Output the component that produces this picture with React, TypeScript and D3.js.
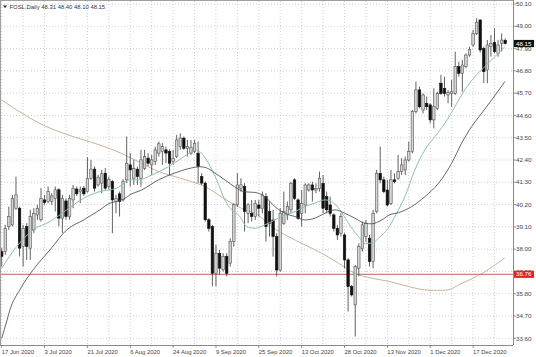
import React from "react";
import * as d3 from "d3";

const opens = [37.88,37.88,39.12,39.20,40.02,40.02,38.13,39.12,38.05,38.95,39.69,39.45,40.43,40.35,40.35,40.51,40.93,39.53,40.38,39.61,40.43,40.97,40.84,41.01,40.84,41.50,41.95,41.17,41.26,41.75,41.09,41.34,40.35,40.73,40.43,41.42,42.16,41.50,41.95,41.50,41.99,42.49,42.16,42.32,42.74,42.82,42.90,42.82,42.32,42.57,43.06,43.48,42.98,42.74,42.82,42.74,41.58,41.26,39.45,39.12,36.81,37.80,36.98,37.64,37.31,38.38,40.19,41.01,41.09,39.77,39.77,39.61,40.18,40.02,40.59,39.85,39.44,38.62,36.97,39.28,39.69,39.94,41.42,40.43,39.77,40.18,40.92,41.17,40.92,41.00,41.25,40.59,40.18,39.69,39.03,38.79,38.70,37.47,36.15,35.25,37.06,38.04,38.62,38.54,37.39,39.85,41.74,41.42,40.92,40.26,41.42,41.50,41.83,41.91,42.40,42.81,44.79,45.86,44.87,45.20,45.12,44.38,44.95,46.19,45.94,45.61,45.69,45.69,47.01,46.68,47.01,47.58,48.08,48.65,49.31,47.91,46.84,48.00,48.19,47.66,48.16,48.31];
const highs = [38.05,39.20,40.10,40.68,41.58,40.10,39.20,39.28,39.94,40.02,40.19,41.01,40.68,41.09,40.76,41.09,41.01,40.68,40.51,40.68,41.17,41.09,41.09,41.12,42.54,42.41,42.08,41.67,41.91,42.00,41.58,41.42,40.68,40.84,41.45,43.56,42.74,42.41,42.08,42.90,42.90,42.74,42.65,43.06,43.31,43.23,43.06,42.93,42.90,43.64,43.72,43.56,43.39,43.39,43.39,43.31,41.75,41.34,39.53,39.20,38.21,37.97,37.80,37.80,38.54,40.27,41.75,41.50,41.26,40.27,40.43,40.43,40.43,40.84,40.76,40.35,39.94,38.79,40.02,40.84,40.35,41.33,41.50,40.51,40.92,41.25,41.25,41.33,41.25,41.83,41.66,40.84,40.59,39.77,39.20,39.77,38.79,37.55,36.23,37.22,38.29,39.36,39.44,38.70,39.94,41.91,43.06,41.58,41.42,41.91,41.74,42.65,42.49,42.57,43.31,44.87,46.27,46.02,45.69,45.53,45.20,45.94,45.77,46.60,46.51,45.86,46.35,47.75,47.25,47.34,47.66,47.99,48.82,49.40,49.35,48.00,48.32,48.57,48.90,48.32,48.65,48.40];
const lows = [37.14,37.72,38.95,39.12,39.94,37.64,37.14,37.47,37.47,38.79,39.45,39.36,40.19,40.27,40.19,39.86,39.12,38.79,39.45,39.45,40.02,40.63,40.27,40.63,40.79,41.42,40.84,41.09,40.76,40.93,40.93,38.79,39.77,39.61,40.35,41.26,41.09,41.17,41.17,41.09,41.91,42.08,41.67,42.16,42.57,42.16,42.24,41.67,42.16,42.49,42.90,42.90,42.57,42.65,42.74,41.26,41.17,39.36,38.87,36.16,36.16,36.73,36.90,36.65,37.14,38.13,40.10,40.84,38.87,39.28,39.36,39.44,39.61,39.77,38.37,38.62,37.63,36.65,36.89,39.20,39.44,39.77,40.43,39.44,39.11,39.77,40.84,40.35,40.76,40.84,39.77,39.77,39.61,38.87,38.46,38.62,37.06,34.92,35.66,33.69,36.65,37.88,38.37,37.14,37.06,39.77,41.25,40.76,40.10,40.18,41.25,41.42,41.66,41.66,42.32,42.73,44.70,44.95,44.70,44.87,44.21,43.96,44.87,45.61,45.53,45.20,45.03,45.61,46.51,45.77,46.93,47.50,47.99,48.57,47.70,46.20,46.19,47.50,47.66,47.50,47.75,48.10];
const closes = [37.64,39.03,39.61,40.51,40.68,38.05,39.03,38.13,39.61,39.77,40.02,40.51,40.30,40.84,40.63,40.93,39.53,40.51,39.61,40.51,41.01,40.73,40.93,40.73,41.50,41.95,41.01,41.55,41.72,41.01,41.45,40.43,40.51,40.35,41.34,42.24,41.91,41.99,41.58,42.41,42.57,42.24,42.41,42.90,43.20,43.06,42.74,42.24,42.49,43.39,43.48,42.98,43.06,43.03,43.23,42.08,41.26,39.45,39.03,36.81,37.80,37.06,37.64,36.81,38.38,40.19,41.17,41.17,39.86,40.19,39.61,40.26,40.02,40.68,39.11,39.28,38.62,36.97,39.77,39.85,40.10,41.25,40.51,39.52,40.26,41.17,41.17,40.92,41.00,41.50,40.02,39.94,39.77,39.03,38.70,39.61,37.47,36.15,35.74,37.14,38.13,39.20,39.28,37.39,39.77,41.74,41.42,40.84,40.18,41.42,41.33,41.83,42.16,42.40,42.81,44.79,45.86,45.03,45.61,45.03,44.38,45.03,45.69,45.69,45.69,45.73,45.77,47.01,46.68,47.09,47.58,47.86,48.65,49.20,47.83,46.76,48.08,48.16,47.75,48.08,48.32,48.15];

const dateLabels = ["17 Jun 2020","3 Jul 2020","21 Jul 2020","6 Aug 2020","24 Aug 2020","9 Sep 2020","25 Sep 2020","13 Oct 2020","28 Oct 2020","13 Nov 2020","1 Dec 2020","17 Dec 2020"];
const priceTicks = [50.10,49.00,47.90,46.80,45.70,44.60,43.50,42.40,41.30,40.20,39.10,38.00,36.90,35.80,34.70,33.60];

// moving averages: [bar index, value]
const maFast = [[0,37.06],[4.2,38.13],[8.8,38.95],[13.5,39.36],[18.2,39.94],[22.9,40.51],[27.5,40.84],[32.2,41.01],[35.9,41.42],[38.3,41.42],[42,41.66],[46.7,42.07],[50.4,42.49],[53.2,42.81],[54.6,42.9],[56,42.73],[57.9,42.24],[60.2,41.42],[62.5,40.43],[64.4,39.94],[66.7,39.61],[68.6,39.11],[70.9,39.03],[73.7,39.2],[76.5,39.44],[79.3,39.69],[82.1,39.85],[84.9,40.1],[87.7,40.27],[90.5,40.43],[92.4,40.35],[94.7,39.94],[97.1,39.28],[99.9,38.62],[101.7,38.29],[103.6,38.29],[105.5,38.54],[108.2,39.03],[110.1,39.61],[112.9,40.59],[115.7,41.91],[118.5,42.9],[121.3,43.55],[124.1,44.21],[126.9,45.03],[129.7,45.86],[132.5,46.51],[135.3,47.01],[138.1,47.5],[140.9,47.99]];
const maMid = [[0,33.6],[1.5,34.5],[2.3,35.0],[5.1,36.0],[8.8,36.98],[13.5,37.96],[18.2,38.95],[22.9,39.44],[27.5,39.94],[30.3,40.27],[32.2,40.35],[34.5,40.51],[35.9,40.68],[39.2,40.92],[43.9,41.42],[48.5,41.76],[53.2,42.01],[55.5,42.07],[57.4,42.01],[59.7,41.76],[62.5,41.42],[65.3,41.07],[68.1,40.83],[70.9,40.8],[73.7,40.59],[76.5,40.1],[79.3,39.77],[82.1,39.61],[84.9,39.44],[87.7,39.53],[90.5,39.77],[93.3,39.94],[96.1,39.77],[98.9,39.53],[101.7,39.28],[103.6,39.25],[106.4,39.44],[108.7,39.7],[111.1,39.8],[114.8,40.1],[118.5,40.59],[122.3,41.25],[126,42.24],[128.8,43.23],[131.6,44.05],[134.4,44.71],[137.2,45.36],[140.9,46.27]];
const maSlow = [[0,45.36],[8.8,44.38],[34.5,42.65],[39.2,42.24],[43.9,41.83],[48.5,41.58],[53.2,41.33],[56.9,41.09],[60.7,40.68],[64.4,40.27],[68.1,39.94],[71.6,39.7],[75.6,39.11],[80.3,38.62],[84.9,38.21],[89.6,37.8],[94.3,37.31],[98.9,36.81],[103.6,36.57],[108.7,36.4],[114,36.15],[119.9,35.97],[124.1,35.97],[129.2,36.34],[134.8,36.83],[140.9,37.57]];

const hLine = 36.76;
const header = "FOSL,Daily 48.31 48.40 48.10 48.15";

const W = 536, H = 357;
const plotRight = 513, plotBottom = 345;
const FONT = "'Liberation Sans', Arial, sans-serif";

export default function App() {
  const x = d3.scaleLinear().domain([0, 141]).range([1.7, 1.7 + 141 * 3.571]);
  const y = d3.scaleLinear().domain([33.6, 50.1]).range([338.3, 4]);
  const line = d3.line<number[]>().x(d => x(d[0])).y(d => y(d[1])).curve(d3.curveMonotoneX);
  const gridX = d3.range(0, 142, 6);
  const bw = 2.5;
  const last = closes[closes.length - 1];

  return (
    <svg width={W} height={H} style={{ position: "absolute", left: 0, top: 0, background: "#fff" }} fontFamily={FONT}>
      <defs>
        <clipPath id="plot"><rect x={0} y={0} width={plotRight} height={plotBottom} /></clipPath>
      </defs>
      <rect x={0} y={0} width={W} height={H} fill="#fff" />
      {gridX.map(i => (
        <line key={"gx" + i} x1={x(i)} x2={x(i)} y1={1} y2={plotBottom} stroke="#c4c4c4" strokeWidth={0.8} strokeDasharray="1 2" />
      ))}
      {priceTicks.map(p => (
        <line key={"gy" + p} x1={1} x2={plotRight} y1={y(p)} y2={y(p)} stroke="#c4c4c4" strokeWidth={0.8} strokeDasharray="1 2" />
      ))}
      <g clipPath="url(#plot)">
        <path d={line(maSlow as any) || ""} fill="none" stroke="#c9b597" strokeWidth={1} />
        <line x1={0} x2={plotRight} y1={y(hLine)} y2={y(hLine)} stroke="#b86a58" strokeWidth={1} />
        {closes.map((c, i) => {
          const o = opens[i];
          const up = c >= o;
          const top = y(Math.max(o, c));
          const bot = y(Math.min(o, c));
          const cx = x(i);
          return (
            <g key={"c" + i}>
              <line x1={cx} x2={cx} y1={y(highs[i])} y2={y(lows[i])} stroke="#3a3a3a" strokeWidth={0.8} />
              <rect x={cx - bw / 2} y={top} width={bw} height={Math.max(bot - top, 0.8)} fill={up ? "#d4d4d4" : "#111"} stroke={up ? "#555" : "#111"} strokeWidth={0.6} />
            </g>
          );
        })}
        <path d={line(maFast as any) || ""} fill="none" stroke="#8ebfb3" strokeWidth={1} />
        <path d={line(maMid as any) || ""} fill="none" stroke="#464a60" strokeWidth={0.85} />
      </g>
      <line x1={0.5} x2={0.5} y1={0} y2={plotBottom} stroke="#a0a0a0" />
      <line x1={0} x2={plotRight} y1={0.5} y2={0.5} stroke="#a0a0a0" />
      <line x1={plotRight + 0.5} x2={plotRight + 0.5} y1={0} y2={plotBottom} stroke="#8a8a8a" />
      <line x1={0} x2={plotRight} y1={plotBottom + 0.5} y2={plotBottom + 0.5} stroke="#8a8a8a" />
      {priceTicks.map(p => (
        <g key={"yt" + p}>
          <line x1={plotRight} x2={plotRight + 3} y1={y(p)} y2={y(p)} stroke="#777" strokeWidth={0.8} />
          <text x={516} y={y(p) + 2.2} fontSize={6.2} fill="#444">{p.toFixed(2)}</text>
        </g>
      ))}
      {dateLabels.map((t, k) => (
        <g key={"xt" + k}>
          <line x1={x(k * 12)} x2={x(k * 12)} y1={plotBottom} y2={plotBottom + 3} stroke="#777" strokeWidth={0.8} />
          <text x={x(k * 12)} y={354} fontSize={5.9} fill="#444">{t}</text>
        </g>
      ))}
      <rect x={514} y={y(last) - 3.6} width={20} height={7.2} fill="#111" />
      <text x={516} y={y(last) + 2.2} fontSize={6.2} fill="#fff">{last.toFixed(2)}</text>
      <rect x={514} y={y(hLine) - 3.6} width={20} height={7.2} fill="#e0241e" />
      <text x={516} y={y(hLine) + 2.2} fontSize={6.2} fill="#fff">{hLine.toFixed(2)}</text>
      <path d="M3,5.5 L7,5.5 L5,8 Z" fill="#222" />
      <text x={9.5} y={8.6} fontSize={5.9} fill="#333">{header}</text>
    </svg>
  );
}
